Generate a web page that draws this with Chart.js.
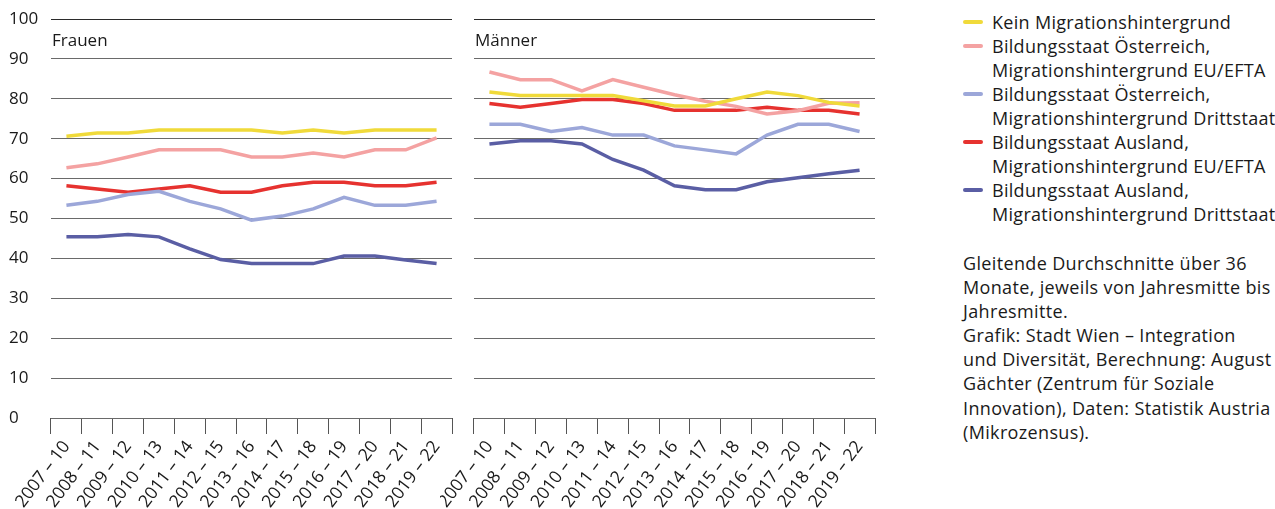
<!DOCTYPE html>
<html lang="de">
<head>
  <meta charset="UTF-8">
  <title>Erwerbstätigenquote nach Migrationshintergrund</title>
  <script src="https://cdn.jsdelivr.net/npm/chart.js"></script>
  <style>
    body { margin: 0; background: #fff; font-family: "Open Sans", sans-serif; color: #1a1a1a; }
    #wrap { position: relative; width: 1275px; height: 509px; overflow: hidden; }
    canvas { position: absolute; top: 0; }
    .panel { position: absolute; top: 28px; font-size: 17px; }
    #legende { position: absolute; left: 963px; top: 10px; font-size: 18px; letter-spacing: 0.3px; line-height: 24px; }
    .eintrag { position: relative; padding-left: 29px; white-space: nowrap; }
    .eintrag span { position: absolute; left: 0; top: 10px; width: 20px; height: 4px; border-radius: 2px; }
    #hinweis { position: absolute; left: 963px; top: 251px; font-size: 18px; letter-spacing: 0.35px; line-height: 24.1px; white-space: nowrap; }
  </style>
</head>
<body>
  <div id="wrap">
    <canvas id="frauen" width="460" height="509" style="left:0"></canvas>
    <canvas id="maenner" width="450" height="509" style="left:440px"></canvas>
    <div class="panel" style="left:52px">Frauen</div>
    <div class="panel" style="left:475px">Männer</div>
    <div id="legende"></div>
    <div id="hinweis">
      Gleitende Durchschnitte über 36<br>
      Monate, jeweils von Jahresmitte bis<br>
      Jahresmitte.<br>
      Grafik: Stadt Wien – Integration<br>
      und Diversität, Berechnung: August<br>
      Gächter (Zentrum für Soziale<br>
      Innovation), Daten: Statistik Austria<br>
      (Mikrozensus).
    </div>
  </div>

  <script>
    // Zeiträume (gleitende 36-Monats-Durchschnitte)
    const zeitraeume = ['2007 – 10', '2008 – 11', '2009 – 12', '2010 – 13', '2011 – 14', '2012 – 15',
      '2013 – 16', '2014 – 17', '2015 – 18', '2016 – 19', '2017 – 20', '2018 – 21', '2019 – 22'];

    const gruppen = [
      ['Kein Migrationshintergrund'],
      ['Bildungsstaat Österreich,', 'Migrationshintergrund EU/EFTA'],
      ['Bildungsstaat Österreich,', 'Migrationshintergrund Drittstaat'],
      ['Bildungsstaat Ausland,', 'Migrationshintergrund EU/EFTA'],
      ['Bildungsstaat Ausland,', 'Migrationshintergrund Drittstaat']
    ];
    const farben = ['#f0da3a', '#f4a2a2', '#9ca7d9', '#e6322f', '#5a5ea4'];

    // Frauen
    const frauenKein = [70.6, 71.4, 71.4, 72.2, 72.2, 72.2, 72.2, 71.4, 72.2, 71.4, 72.2, 72.2, 72.2];
    const frauenOeEu = [62.7, 63.7, 65.4, 67.2, 67.2, 67.2, 65.4, 65.4, 66.4, 65.4, 67.2, 67.2, 70.2];
    const frauenOeDritt = [53.3, 54.3, 56.0, 56.8, 54.3, 52.4, 49.6, 50.6, 52.4, 55.3, 53.3, 53.3, 54.3];
    const frauenAuslEu = [58.2, 57.4, 56.6, 57.4, 58.2, 56.6, 56.6, 58.2, 59.1, 59.1, 58.2, 58.2, 59.1];
    const frauenAuslDritt = [45.4, 45.4, 46.0, 45.4, 42.4, 39.7, 38.7, 38.7, 38.7, 40.6, 40.6, 39.6, 38.7];

    // Männer
    const maennerKein = [81.7, 80.8, 80.8, 80.8, 80.8, 79.5, 78.2, 78.2, 80.0, 81.7, 80.8, 79.1, 78.2];
    const maennerOeEu = [86.7, 84.8, 84.8, 82.0, 84.8, 82.9, 81.0, 79.4, 78.1, 76.2, 77.0, 78.9, 79.0];
    const maennerOeDritt = [73.6, 73.6, 71.8, 72.8, 70.9, 70.9, 68.2, 67.2, 66.2, 70.9, 73.6, 73.6, 71.8];
    const maennerAuslEu = [78.8, 77.9, 78.8, 79.8, 79.8, 78.8, 77.1, 77.1, 77.1, 77.9, 77.1, 77.1, 76.2];
    const maennerAuslDritt = [68.7, 69.5, 69.5, 68.7, 64.8, 62.1, 58.2, 57.2, 57.2, 59.2, 60.2, 61.2, 62.1];

    const yTicks = [0, 10, 20, 30, 40, 50, 60, 70, 80, 90, 100];

    // Legende
    const legende = document.getElementById('legende');
    gruppen.forEach((g, i) => {
      const div = document.createElement('div');
      div.className = 'eintrag';
      div.innerHTML = '<span style="background:' + farben[i] + '"></span>' + g.join('<br>');
      legende.appendChild(div);
    });

    function datensaetze(reihen) {
      return reihen.map((werte, i) => ({
        label: gruppen[i].join(' '),
        data: werte,
        borderColor: farben[i],
        backgroundColor: farben[i],
        borderWidth: 3.5,
        pointRadius: 0,
        tension: 0,
        fill: false
      }));
    }

    function diagramm(id, reihen, mitLabels) {
      return new Chart(document.getElementById(id), {
        type: 'line',
        data: { labels: zeitraeume, datasets: datensaetze(reihen) },
        options: {
          responsive: false,
          animation: false,
          layout: { padding: { top: 19, left: mitLabels ? 9 : 0, right: mitLabels ? 8 : 15, bottom: 0 } },
          plugins: { legend: { display: false }, tooltip: { enabled: false } },
          scales: {
            x: {
              offset: true,
              grid: { offset: true, drawOnChartArea: false, tickLength: 16, tickColor: '#555', tickWidth: 1 },
              border: { display: false },
              ticks: {
                minRotation: 53, maxRotation: 53, autoSkip: false, padding: 3,
                color: '#1a1a1a', font: { family: 'Open Sans', size: 17.5 }
              },
              afterFit: s => { s.height = 91; s.paddingLeft = 0; s.paddingRight = 0; }
            },
            y: {
              min: 0, max: 100,
              afterBuildTicks: s => { s.ticks = yTicks.map(v => ({ value: v })); },
              grid: {
                drawTicks: false,
                color: c => c.tick.value === 100 ? '#2b2b2b' : '#6a6a6a',
                lineWidth: 1
              },
              border: { display: false },
              ticks: {
                display: mitLabels, crossAlign: 'far', padding: 0,
                color: '#1a1a1a', font: { family: 'Open Sans', size: 17 }
              },
              afterFit: s => { s.width = mitLabels ? 42 : 34; s.paddingTop = 0; s.paddingBottom = 0; }
            }
          }
        }
      });
    }

    diagramm('frauen', [frauenKein, frauenOeEu, frauenOeDritt, frauenAuslEu, frauenAuslDritt], true);
    diagramm('maenner', [maennerKein, maennerOeEu, maennerOeDritt, maennerAuslEu, maennerAuslDritt], false);
  </script>
</body>
</html>
